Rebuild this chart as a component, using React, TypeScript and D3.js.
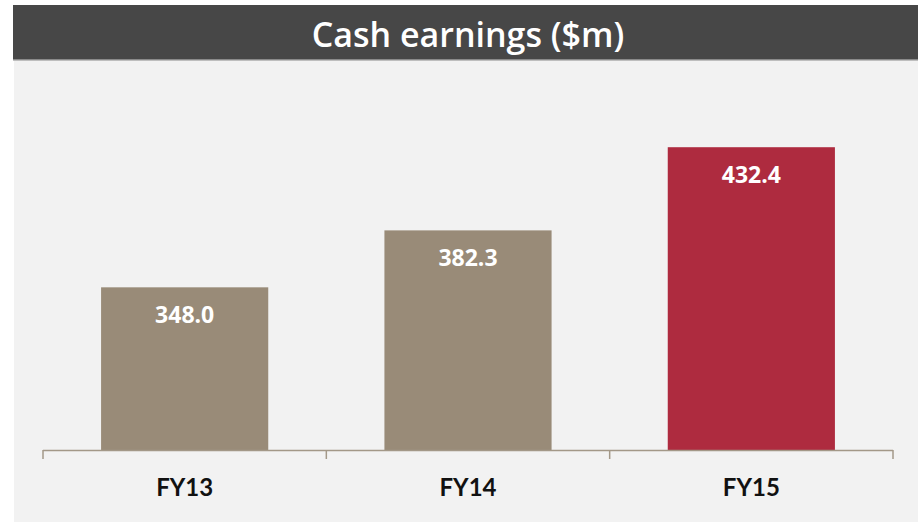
import React, { useEffect } from "react";
import * as d3 from "d3";

const categories = ["FY13", "FY14", "FY15"];
const values = [348.0, 382.3, 432.4];
const valueLabels = ["348.0", "382.3", "432.4"];
const barColors = ["#998b78", "#998b78", "#ae2b3f"];
const yDomain = [250, 450];
const title = "Cash earnings ($m)";

const W = 918;
const H = 522;
const FONT = "Lato, 'Open Sans', sans-serif";
const FONT2 = "'Open Sans', Lato, sans-serif";

export default function App() {
  useEffect(() => {
    document.body.style.margin = "0";
  }, []);

  const x = d3.scaleBand<string>().domain(categories).range([43, 893]).padding(0);
  const y = d3.scaleLinear().domain(yDomain).range([450, 118]);
  const barW = x.bandwidth() * 0.59;
  const ticks = [...categories.map((c) => x(c) as number), 893];

  return (
    <svg width={W} height={H} style={{ display: "block" }}>
      <rect x={0} y={0} width={W} height={H} fill="#ffffff" />
      <rect x={14} y={60} width={W - 14} height={H - 60} fill="#f2f2f2" />
      <rect x={13} y={5} width={W - 13} height={55} fill="#474747" />
      <rect x={13} y={59} width={W - 13} height={1.5} fill="#8a8a8a" />
      <text
        x={468}
        y={47}
        fill="#ffffff"
        fontFamily={FONT2}
        fontWeight={600}
        fontSize={34}
        textAnchor="middle"
      >
        {title}
      </text>
      {categories.map((c, i) => {
        const cx = (x(c) as number) + x.bandwidth() / 2;
        return (
          <g key={c}>
            <rect
              x={cx - barW / 2}
              y={y(values[i])}
              width={barW}
              height={y(yDomain[0]) - y(values[i])}
              fill={barColors[i]}
            />
            <text
              x={cx}
              y={y(values[i]) + 36}
              fill="#ffffff"
              fontFamily={FONT2}
              fontWeight={700}
              fontSize={23}
              textAnchor="middle"
            >
              {valueLabels[i]}
            </text>
            <text
              x={cx}
              y={496}
              fill="#111111"
              fontFamily={FONT}
              fontWeight={700}
              fontSize={24}
              textAnchor="middle"
            >
              {c}
            </text>
          </g>
        );
      })}
      <line x1={43} x2={893} y1={450.5} y2={450.5} stroke="#a39888" strokeWidth={1.5} />
      {ticks.map((t, i) => (
        <line key={i} x1={t} x2={t} y1={450} y2={459} stroke="#a39888" strokeWidth={1.5} />
      ))}
    </svg>
  );
}
